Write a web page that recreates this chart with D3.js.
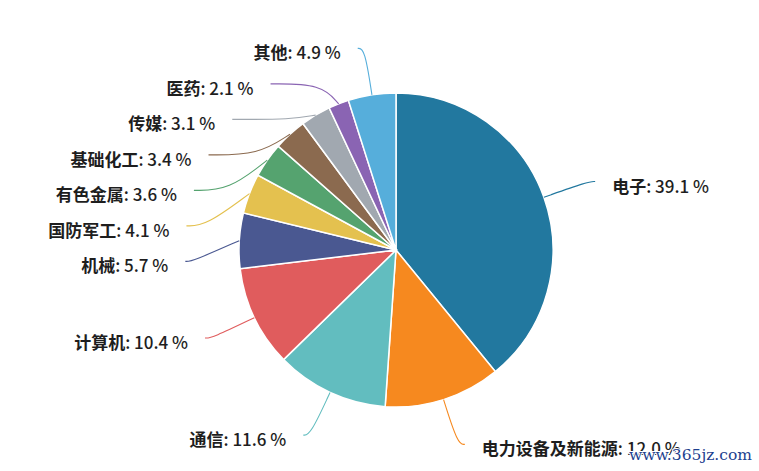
<!DOCTYPE html>
<html>
<head>
<meta charset="utf-8">
<script src="https://cdn.jsdelivr.net/npm/d3@7"></script>
<style>
  body { margin: 0; background: #fff; }
  svg { display: block; }
</style>
</head>
<body>
<svg id="chart"></svg>
<script>
// 行业占比 (%)
const names = ['电子', '电力设备及新能源', '通信', '计算机', '机械', '国防军工', '有色金属', '基础化工', '传媒', '医药', '其他']
const values = [39.1, 12.0, 11.6, 10.4, 5.7, 4.1, 3.6, 3.4, 3.1, 2.1, 4.9]
const colors = ['#22789f', '#f6891f', '#62bdbf', '#e05c5d', '#4a5891', '#e4c14f', '#55a36f', '#8b6a4f', '#a1a8b0', '#8a64b3', '#56aedb']
const watermark = 'www.365jz.com'

const width = 759, height = 471
const cx = 396, cy = 250, radius = 157
const lineLen = 47, lineLen2 = 7, textGap = 17, labelStep = 35.5

const svg = d3.select('#chart').attr('width', width).attr('height', height)

const data = names.map((n, i) => ({name: n, value: values[i], color: colors[i]}))
const pie = d3.pie().sort(null).value(d => d.value)
const arcs = pie(data)
const arc = d3.arc().innerRadius(0).outerRadius(radius)

const g = svg.append('g').attr('transform', `translate(${cx},${cy})`)

g.selectAll('.slice')
    .data(arcs)
    .join('path')
    .attr('class', 'slice')
    .attr('d', arc)
    .attr('fill', d => d.data.color)
    .attr('stroke', '#fff')
    .attr('stroke-width', 1.5)

// 标签位置: 先沿半径外推, 同侧重叠时往下挤
const rr = radius + lineLen
arcs.forEach(d => {
    d.mid = (d.startAngle + d.endAngle) / 2
    d.side = Math.sin(d.mid) < 0 ? -1 : 1
    d.x1 = radius * Math.sin(d.mid)
    d.y1 = -radius * Math.cos(d.mid)
    d.x2 = rr * Math.sin(d.mid)
    d.ly = -rr * Math.cos(d.mid)
})

;[-1, 1].forEach(side => {
    const list = arcs.filter(d => d.side === side).sort((a, b) => a.ly - b.ly)
    let last = -Infinity
    let moved = false
    list.forEach(d => {
        if (d.ly < last + labelStep) {
            d.ly = last + labelStep
            moved = true
        }
        last = d.ly
    })
    list.forEach(d => {
        const dy = Math.min(Math.abs(d.ly), rr)
        const dx = moved ? Math.sqrt(rr * rr - dy * dy) : Math.abs(d.x2)
        d.x3 = side * (dx + lineLen2)
    })
})

const line = d3.line().curve(d3.curveBasis)

g.selectAll('.label-line')
    .data(arcs)
    .join('path')
    .attr('class', 'label-line')
    .attr('d', d => line([[d.x1, d.y1], [d.x2, d.ly], [d.x3, d.ly]]))
    .attr('fill', 'none')
    .attr('stroke', d => d.data.color)
    .attr('stroke-width', 1.1)

const labels = g.selectAll('.label')
    .data(arcs)
    .join('text')
    .attr('class', 'label')
    .attr('x', d => d.x3 + d.side * textGap)
    .attr('y', d => d.ly + 3)
    .attr('dominant-baseline', 'central')
    .attr('text-anchor', d => d.side < 0 ? 'end' : 'start')
    .style('font-family', '"Noto Sans CJK SC", "Noto Sans", sans-serif')
    .style('font-size', '17px')
    .style('fill', '#1e1e1e')

labels.append('tspan').style('font-weight', 'bold').text(d => d.data.name)
labels.append('tspan').style('font-weight', 500).text(d => `: ${d.data.value.toFixed(1)} %`)

svg.append('text')
    .attr('x', width - 7)
    .attr('y', 460)
    .attr('text-anchor', 'end')
    .text(watermark)
    .style('font-family', '"DejaVu Serif", "Liberation Serif", serif')
    .style('font-size', '15.5px')
    .style('fill', '#1d3f8f')
    .style('stroke', '#fff')
    .style('stroke-width', 2)
    .style('paint-order', 'stroke')
</script>
</body>
</html>
